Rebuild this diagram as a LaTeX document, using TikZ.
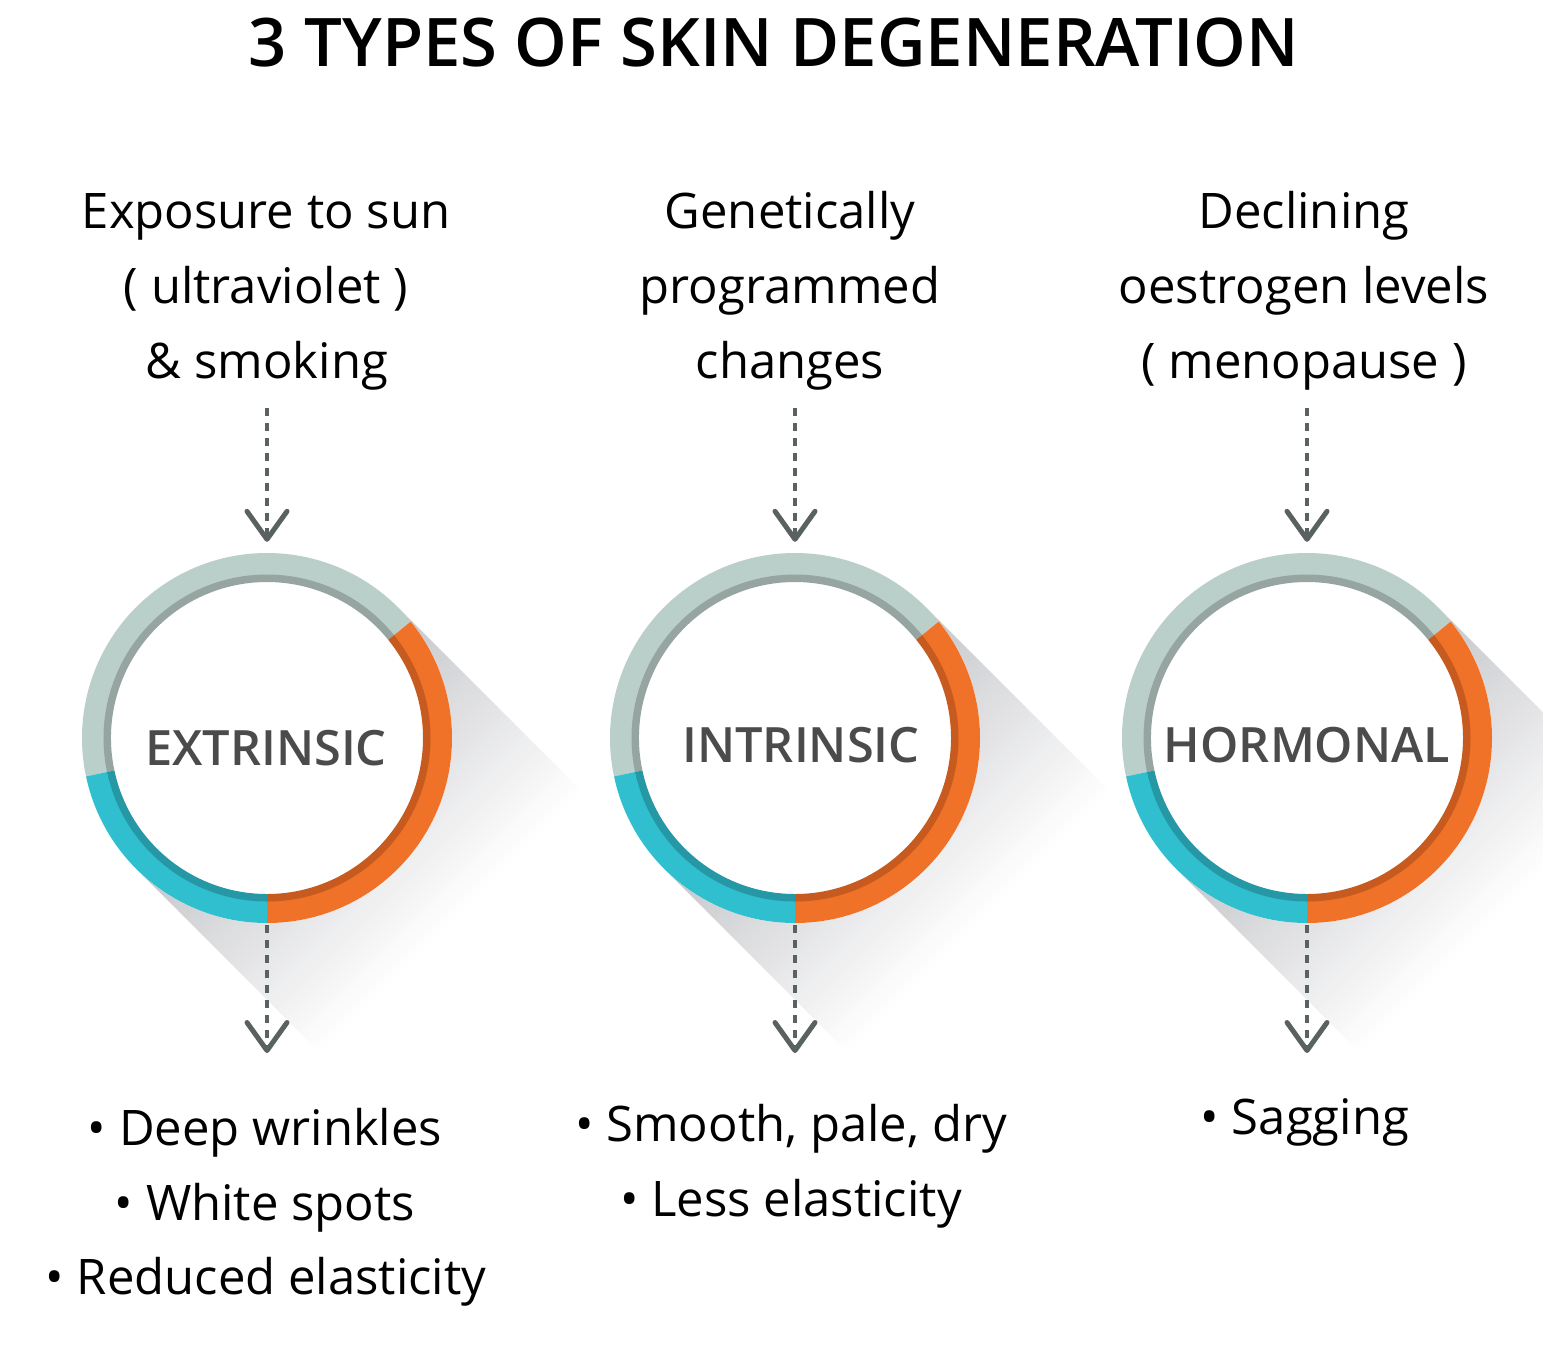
\documentclass[tikz,border=0pt]{standalone}
\usepackage{fontspec}
\setmainfont{Open Sans}
\newfontfamily\semib{Open Sans Semibold}
\usetikzlibrary{arrows.meta}
\definecolor{ringlt}{HTML}{BACFCA}
\definecolor{ringdk}{HTML}{97A5A2}
\definecolor{cyanlt}{HTML}{2FBFCF}
\definecolor{cyandk}{HTML}{2698A5}
\definecolor{orglt}{HTML}{F07128}
\definecolor{orgdk}{HTML}{C75A1E}
\definecolor{lblgray}{HTML}{4B4B4B}
\definecolor{arrgray}{HTML}{5A6161}
\definecolor{shadowc}{RGB}{196,197,201}
\newcommand\myshadow[1]{%
  \begin{scope}[shift={#1}, rotate=-45]
    \foreach \i in {0,...,51} {
      \pgfmathtruncatemacro\p{100-100*\i/52}
      \fill[shadowc!\p!white] (5*\i,-185) rectangle (5*\i+5.6,185);
    }
  \end{scope}}
\newcommand\myseg[4]{%
  \fill[#3] (#1:185) arc[start angle=#1, end angle=#2, radius=185] -- (#2:163) arc[start angle=#2, end angle=#1, radius=163] -- cycle;
  \fill[#4] (#1:163.5) arc[start angle=#1, end angle=#2, radius=163.5] -- (#2:156) arc[start angle=#2, end angle=#1, radius=156] -- cycle;}
\newcommand\myring[1]{%
  \begin{scope}[shift={#1}]
    \fill[white] (0,0) circle[radius=185];
    \myseg{-39}{-192}{ringlt}{ringdk}
    \myseg{-192}{-270}{cyanlt}{cyandk}
    \myseg{-270}{-399}{orglt}{orgdk}
  \end{scope}}
\begin{document}
\begin{tikzpicture}[x=1pt,y=-1pt,
  txt/.style={font=\fontsize{49}{58}\selectfont, text=black, inner sep=0pt, anchor=base},
  lbl/.style={font=\semib\fontsize{48.7}{56}\selectfont, text=lblgray, inner sep=0pt, anchor=base},
  ttl/.style={font=\semib\fontsize{67}{76}\selectfont, text=black, inner sep=0pt, anchor=base},
  ringnode/.style={circle, minimum size=370pt, inner sep=0pt},
  flow/.style={draw=arrgray, line width=4pt, dash pattern=on 8pt off 7pt,
    -{Straight Barb[length=28pt,width=40pt,line width=5pt,round]}}]
\useasboundingbox (0,0) rectangle (1543,1358);
\fill[white] (0,0) rectangle (1543,1358);
\begin{scope}
\clip (0,0) rectangle (1543,1358);
\myshadow{(267,738)}
\myshadow{(795,738)}
\myshadow{(1307,738)}
\end{scope}
\myring{(267,738)}
\myring{(795,738)}
\myring{(1307,738)}
\node[ringnode] (c1) at (267,738) {};
\node[ringnode] (c2) at (795,738) {};
\node[ringnode] (c3) at (1307,738) {};
% title
\node[ttl] (title) at (774,66) {3 TYPES OF SKIN DEGENERATION};
% labels
\node[lbl] (l1) at (266,765) {EXTRINSIC};
\node[lbl] (l2) at (801,762) {INTRINSIC};
\node[lbl] (l3) at (1307,762) {HORMONAL};
% causes
\node[txt] (t1a) at (266,228) {Exposure to sun};
\node[txt] (t1b) at (266,303) {( ultraviolet )};
\node[txt] (t1c) at (267,378) {\& smoking};
\node[txt] (t2a) at (790,228) {Genetically};
\node[txt] (t2b) at (790,303) {programmed};
\node[txt] (t2c) at (790,378) {changes};
\node[txt] (t3a) at (1304,228) {Declining};
\node[txt] (t3b) at (1304,303) {oestrogen levels};
\node[txt] (t3c) at (1304,378) {( menopause )};
% effects
\node[txt] (e1a) at (265,1145) {• Deep wrinkles};
\node[txt] (e1b) at (265,1220) {• White spots};
\node[txt] (e1c) at (266,1294) {• Reduced elasticity};
\node[txt] (e2a) at (791,1141) {• Smooth, pale, dry};
\node[txt] (e2b) at (791,1216) {• Less elasticity};
\node[txt] (e3a) at (1305,1134) {• Sagging};
% arrows
\coordinate (s1) at (267,408);
\coordinate (s2) at (795,408);
\coordinate (s3) at (1307,408);
\coordinate (b1) at (267,1053);
\coordinate (b2) at (795,1053);
\coordinate (b3) at (1307,1053);
\draw[flow] (s1) -- ([yshift=11pt]c1.north);
\draw[flow] (s2) -- ([yshift=11pt]c2.north);
\draw[flow] (s3) -- ([yshift=11pt]c3.north);
\draw[flow] ([yshift=-2pt]c1.south) -- (b1);
\draw[flow] ([yshift=-2pt]c2.south) -- (b2);
\draw[flow] ([yshift=-2pt]c3.south) -- (b3);
\end{tikzpicture}
\end{document}
